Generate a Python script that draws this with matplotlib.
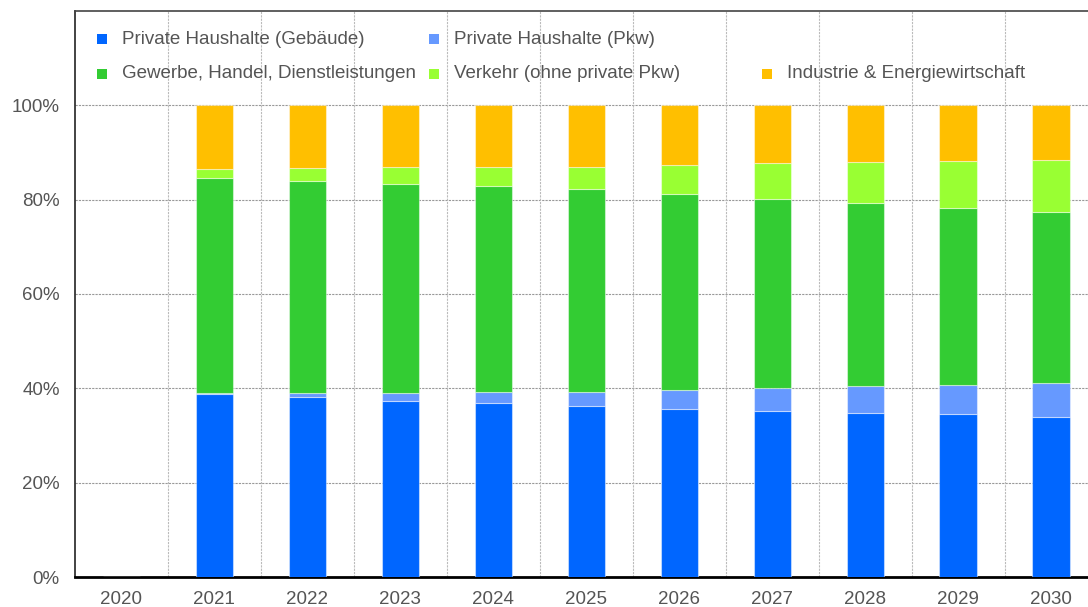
import matplotlib
matplotlib.use("Agg")
import matplotlib.pyplot as plt
from matplotlib.patches import Rectangle
import numpy as np

years = ["2020", "2021", "2022", "2023", "2024", "2025", "2026", "2027", "2028", "2029", "2030"]
series_names = [
    "Private Haushalte (Gebäude)",
    "Private Haushalte (Pkw)",
    "Gewerbe, Handel, Dienstleistungen",
    "Verkehr (ohne private Pkw)",
    "Industrie & Energiewirtschaft",
]
haushalte_gebaeude = [0, 38.8, 38.1, 37.4, 36.8, 36.2, 35.6, 35.3, 34.8, 34.5, 34.0]
haushalte_pkw = [0, 0.2, 0.9, 1.7, 2.4, 3.1, 4.1, 4.8, 5.7, 6.3, 7.1]
ghd = [0, 45.5, 45.0, 44.3, 43.7, 42.9, 41.5, 40.1, 38.7, 37.4, 36.2]
verkehr = [0, 2.0, 2.7, 3.5, 4.0, 4.8, 6.1, 7.5, 8.7, 10.0, 11.2]
industrie = [0, 13.5, 13.3, 13.1, 13.1, 13.0, 12.7, 12.3, 12.1, 11.8, 11.5]
colors = ["#0066FF", "#6699FF", "#33CC33", "#99FF33", "#FFBF00"]

W, H = 1088, 607
fig = plt.figure(figsize=(W / 100, H / 100), dpi=100)
plt.rcParams["font.family"] = ["Liberation Sans", "DejaVu Sans"]
text_color = "#555555"
fs = 13.5

ax = fig.add_axes([75 / W, 30 / H, 1022.5 / W, 566 / H])
x = np.arange(len(years))
bottom = np.zeros(len(years))
for vals, col in zip([haushalte_gebaeude, haushalte_pkw, ghd, verkehr, industrie], colors):
    vals = np.array(vals, dtype=float)
    ax.bar(x, vals, width=0.4, bottom=bottom, color=col, edgecolor=(1, 1, 1, 0.45), linewidth=0.8, zorder=3)
    bottom += vals

ax.set_xlim(-0.5, 10.5)
ax.set_ylim(0, 120)
ax.set_yticks([0, 20, 40, 60, 80, 100])
ax.set_yticklabels([f"{v}%" for v in [0, 20, 40, 60, 80, 100]])
ax.set_xticks(x)
ax.set_xticklabels(years)
ax.tick_params(axis="both", length=0, labelsize=fs, colors=text_color)
ax.tick_params(axis="x", pad=10)
ax.tick_params(axis="y", pad=11)

for yv in [20, 40, 60, 80, 100]:
    ax.axhline(yv, color="#999999", linestyle=(0, (2, 1)), linewidth=0.8, zorder=1)
for xv in np.arange(0.5, 10, 1.0):
    ax.axvline(xv, color="#bbbbbb", linestyle=(0, (2, 1)), linewidth=0.8, zorder=1)

ax.spines["bottom"].set_linewidth(2)
ax.spines["bottom"].set_color("black")
ax.spines["left"].set_color("#222222")
ax.spines["left"].set_linewidth(1.2)
ax.spines["top"].set_color("#444444")
ax.spines["top"].set_linewidth(1.2)
ax.spines["right"].set_visible(False)

# legend laid out in fixed columns like the original
leg_pos = [(97, 39), (429, 39), (97, 74), (429, 74), (762, 74)]
for name, col, (px, py) in zip(series_names, colors, leg_pos):
    fig.patches.append(Rectangle((px / W, 1 - (py + 5) / H), 10 / W, 10 / H,
                                 transform=fig.transFigure, facecolor=col, edgecolor="none"))
    fig.text((px + 25) / W, 1 - py / H, name, fontsize=fs, color=text_color, va="center", ha="left")

fig.savefig("out.png", dpi=100)
